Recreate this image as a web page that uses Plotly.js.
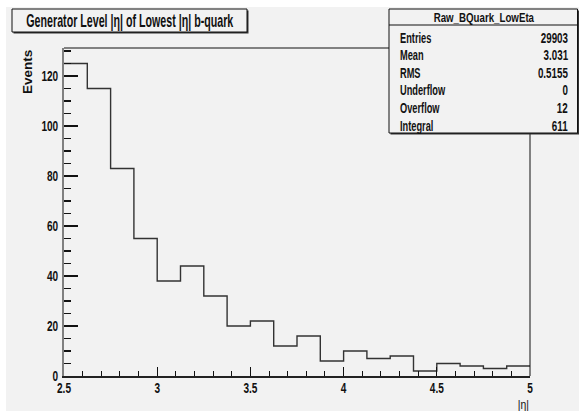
<!DOCTYPE html>
<html>
<head>
<meta charset="utf-8">
<script src="https://cdn.plot.ly/plotly-3.0.1.min.js"></script>
<style>
  html, body { margin: 0; padding: 0; background: #ffffff; }
  #chart { position: absolute; left: 6px; top: 7px; width: 573px; height: 404px; }
</style>
</head>
<body>
<div id="chart"></div>
<script>
// Histogram of the lowest generator-level |eta| of the b-quarks
const binLow = 2.5;
const binWidth = 0.125;
const binCounts = [125, 115, 83, 55, 38, 44, 32, 20, 22, 12, 16, 6, 10, 7, 8, 2, 5, 4, 3, 4];

const histName = "Raw_BQuark_LowEta";
const statLabels = ["Entries", "Mean", "RMS", "Underflow", "Overflow", "Integral"];
const statValues = ["29903", "3.031", "0.5155", "0", "12", "611"];

const xTickVals = [2.5, 3, 3.5, 4, 4.5, 5];
const xTickText = ["2.5", "3", "3.5", "4", "4.5", "5"];
const yTickVals = [0, 20, 40, 60, 80, 100, 120];

const titleText = "Generator Level |\u03B7| of Lowest |\u03B7| b-quark";
const xTitle = "|\u03B7|";
const yTitle = "Events";

// step outline: one point per bin edge, last count repeated to close the final bin
const edges = binCounts.map((_, i) => binLow + i * binWidth);
edges.push(binLow + binCounts.length * binWidth);
const stepY = binCounts.concat([binCounts[binCounts.length - 1]]);

// page-pixel helpers for the frame, boxes and labels
const OX = 6, OY = 7;                       // div offset on the page
const PL = 64, PR = 530, PT = 48, PB = 376; // plot area in page pixels
const px = X => (X - PL) / (PR - PL);
const py = Y => (PB - Y) / (PB - PT);

const FONT = "Liberation Sans, Arial, sans-serif";
const ink = "#111111";

const shapes = [
  // frame top and right
  {type: "line", xref: "paper", yref: "paper", x0: 0, x1: 1, y0: 1, y1: 1, line: {color: ink, width: 1}},
  {type: "line", xref: "paper", yref: "paper", x0: 1, x1: 1, y0: 0, y1: 1, line: {color: ink, width: 1}},
  // title box with shadow
  {type: "rect", xref: "paper", yref: "paper", x0: px(13.5), x1: px(248.5), y0: py(33.5), y1: py(10.5),
   line: {width: 0}, fillcolor: "#333333", layer: "above"},
  {type: "rect", xref: "paper", yref: "paper", x0: px(12), x1: px(247), y0: py(32), y1: py(9),
   line: {color: ink, width: 1}, fillcolor: "#f2f2f2", layer: "above"},
  // stats box with shadow and header rule
  {type: "rect", xref: "paper", yref: "paper", x0: px(390.5), x1: px(579), y0: py(134.5), y1: py(10.5),
   line: {width: 0}, fillcolor: "#333333", layer: "above"},
  {type: "rect", xref: "paper", yref: "paper", x0: px(389), x1: px(577.5), y0: py(133), y1: py(9),
   line: {color: ink, width: 1}, fillcolor: "#f2f2f2", layer: "above"},
  {type: "line", xref: "paper", yref: "paper", x0: px(389), x1: px(577.5), y0: py(25), y1: py(25),
   line: {color: ink, width: 1}, layer: "above"}
];

// each annotation carries its own horizontal squeeze factor (narrow typeface look)
const annotations = [];
const squeezeOf = [];
function addNote(opts, squeeze) { annotations.push(opts); squeezeOf.push(squeeze); }

addNote({xref: "paper", yref: "paper", x: px(129.5), y: py(21), xanchor: "center", yanchor: "middle",
  text: titleText, showarrow: false, font: {family: FONT, size: 17.5, color: ink, weight: "bold"}}, 0.61);
addNote({xref: "paper", yref: "paper", x: px(483.5), y: py(17), xanchor: "center", yanchor: "middle",
  text: histName, showarrow: false, font: {family: FONT, size: 13.5, color: ink, weight: "bold"}}, 0.72);
addNote({xref: "paper", yref: "paper", x: px(28), y: py(72), xanchor: "center", yanchor: "middle",
  text: yTitle, textangle: -90, showarrow: false, font: {family: FONT, size: 13.5, color: ink, weight: "bold"}}, 1);
addNote({xref: "paper", yref: "paper", x: px(530.5), y: py(404), xanchor: "right", yanchor: "middle",
  text: xTitle, showarrow: false, font: {family: FONT, size: 13, color: ink}}, 0.8);
statLabels.forEach((lab, i) => {
  const yc = 37.5 + i * 17.6;
  addNote({xref: "paper", yref: "paper", x: px(398), y: py(yc), xanchor: "left", yanchor: "middle",
    text: lab, showarrow: false, font: {family: FONT, size: 14, color: ink, weight: "bold"}}, 0.66);
  addNote({xref: "paper", yref: "paper", x: px(569.5), y: py(yc), xanchor: "right", yanchor: "middle",
    text: statValues[i], showarrow: false, font: {family: FONT, size: 14, color: ink, weight: "bold"}}, 0.7);
});

const trace = {
  type: "scatter", mode: "lines", x: edges, y: stepY,
  line: {shape: "hv", color: "#333333", width: 1.4},
  hoverinfo: "skip", cliponaxis: false
};

const tickFont = {family: FONT, size: 14, color: ink, weight: "bold"};

const layout = {
  width: 573, height: 404,
  margin: {l: PL - OX, r: 573 - (PR - OX), t: PT - OY, b: 404 - (PB - OY)},
  paper_bgcolor: "#f2f2f2", plot_bgcolor: "#f2f2f2",
  showlegend: false,
  font: {family: FONT, size: 13, color: ink},
  xaxis: {
    range: [2.5, 5], tickvals: xTickVals, ticktext: xTickText,
    ticks: "inside", ticklen: 9, tickwidth: 1.2, tickcolor: ink,
    minor: {dtick: 0.1, tick0: 2.5, ticks: "inside", ticklen: 5, tickwidth: 1, tickcolor: ink, showgrid: false},
    showline: true, linecolor: "#222222", linewidth: 2, showgrid: false, zeroline: false,
    tickfont: tickFont, ticklabelstandoff: -2
  },
  yaxis: {
    range: [0, 131.2], tickvals: yTickVals,
    ticks: "inside", ticklen: 14, tickwidth: 1.5, tickcolor: ink,
    minor: {dtick: 5, tick0: 0, ticks: "inside", ticklen: 7, tickwidth: 1.3, tickcolor: ink, showgrid: false},
    showline: true, linecolor: "#808080", linewidth: 2, showgrid: false, zeroline: false,
    tickfont: tickFont, ticklabelstandoff: 1
  },
  shapes: shapes,
  annotations: annotations
};

// narrow a text element horizontally about a fixed x in its own coordinates
function narrow(el, s, ax) {
  if (s === 1) return;
  const prev = el.getAttribute("transform") || "";
  el.setAttribute("transform", prev + " translate(" + ax + ",0) scale(" + s + ",1) translate(" + (-ax) + ",0)");
}

Plotly.newPlot("chart", [trace], layout, {staticPlot: true, displayModeBar: false}).then(gd => {
  // tick labels keep their anchor (x attribute)
  gd.querySelectorAll(".xtick text, .ytick text").forEach(t => {
    narrow(t, 0.72, parseFloat(t.getAttribute("x")) || 0);
  });
  // annotations keep the side they are anchored on
  gd.querySelectorAll("g.annotation").forEach(g => {
    const i = parseInt(g.getAttribute("data-index"), 10);
    const t = g.querySelector("text.annotation-text");
    if (!t || isNaN(i)) return;
    const bb = t.getBBox();
    const side = annotations[i].xanchor;
    const ax = side === "left" ? bb.x : side === "right" ? bb.x + bb.width : bb.x + bb.width / 2;
    narrow(t, squeezeOf[i], ax);
  });
});
</script>
</body>
</html>
